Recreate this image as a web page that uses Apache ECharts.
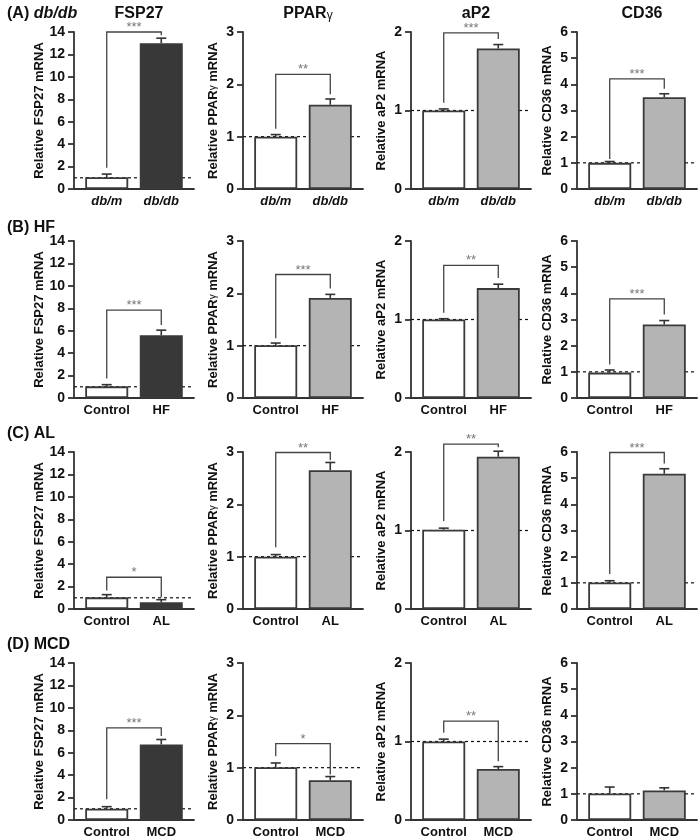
<!DOCTYPE html>
<html>
<head>
<meta charset="utf-8">
<script src="https://cdn.jsdelivr.net/npm/echarts@6/dist/echarts.min.js"></script>
<style>
  html, body { margin: 0; padding: 0; background: #fff; }
  #main { width: 700px; height: 839px; }
</style>
</head>
<body>
<div id="main"></div>
<script>
const rowLabels = ['(A) {i|db/db}', '(B) HF', '(C) AL', '(D) MCD'];
const genes = ['FSP27', 'PPAR{g|γ}', 'aP2', 'CD36'];
const yNames = ['Relative FSP27 mRNA', 'Relative PPAR{g|γ} mRNA', 'Relative aP2 mRNA', 'Relative CD36 mRNA'];
const yMax = [14, 3, 2, 6];
const yStep = [2, 1, 1, 1];
const groups = [
    ['db/m', 'db/db'],
    ['Control', 'HF'],
    ['Control', 'AL'],
    ['Control', 'MCD']
];

// means[row][gene] = [control, treated]
const means = [
    [[1.05, 13.0], [1.0, 1.61], [1.0, 1.79], [1.0, 3.51]],
    [[1.04, 5.6], [1.01, 1.91], [1.0, 1.40], [0.97, 2.81]],
    [[1.04, 0.6], [1.0, 2.65], [1.01, 1.94], [1.01, 5.17]],
    [[1.01, 6.74], [1.01, 0.76], [1.0, 0.65], [1.01, 1.13]]
];
// upper error (SEM)
const sems = [
    [[0.28, 0.45], [0.04, 0.11], [0.02, 0.05], [0.05, 0.13]],
    [[0.15, 0.45], [0.04, 0.07], [0.01, 0.05], [0.10, 0.15]],
    [[0.24, 0.23], [0.04, 0.15], [0.02, 0.07], [0.07, 0.19]],
    [[0.18, 0.44], [0.08, 0.07], [0.03, 0.03], [0.25, 0.10]]
];
// significance brackets: [left leg end, top, right leg end]
const brackets = [
    [[1.9, 14.0, 13.7], [1.15, 2.19, 1.81], [1.1, 1.99, 1.91], [1.15, 4.21, 3.83]],
    [[1.73, 7.83, 6.5], [1.14, 2.36, 2.09], [1.085, 1.69, 1.53], [1.28, 3.79, 3.19]],
    [[1.64, 2.83, 1.04], [1.18, 2.99, 2.84], [1.12, 2.1, 2.06], [1.34, 5.98, 5.56]],
    [[1.84, 8.22, 7.48], [1.22, 1.46, 0.87], [1.11, 1.26, 0.75], null]
];
const stars = [
    ['***', '**', '***', '***'],
    ['***', '***', '**', '***'],
    ['*', '**', '**', '***'],
    ['***', '*', '**', '']
];

const font = '"Liberation Sans", Arial, Helvetica, sans-serif';
const colLeft = [74, 243, 411, 577];
const rowTop = [32, 241, 452, 663];
const rowLabelTop = [1, 215, 421, 632];
const plotH = 157;
const plotW = 120;
const xMin = -0.6, xMax = 1.6;
const treatedColor = ['#383838', '#b4b4b4', '#b4b4b4', '#b4b4b4'];
const axisColor = '#333';

const chart = echarts.init(document.getElementById('main'));

const title = [];
const grid = [];
const xAxis = [];
const yAxis = [];
const series = [];

rowLabels.forEach((lab, r) => {
    title.push({
        text: lab,
        left: 2,
        top: rowLabelTop[r],
        textStyle: {
            fontFamily: font, fontSize: 16, fontWeight: 'bold', color: '#111',
            rich: { i: { fontFamily: font, fontSize: 16, fontWeight: 'bold', fontStyle: 'italic', color: '#111' } }
        }
    });
});
genes.forEach((g, c) => {
    title.push({
        text: g,
        left: colLeft[c] + plotW / 2,
        textAlign: 'center',
        top: 1,
        textStyle: {
            fontFamily: font, fontSize: 16, fontWeight: 'bold', color: '#111',
            rich: { g: { fontFamily: font, fontSize: 12, fontWeight: 'normal', color: '#111', padding: [4, 0, 0, 0] } }
        }
    });
});

for (let r = 0; r < 4; r++) {
    for (let c = 0; c < 4; c++) {
        const k = r * 4 + c;
        grid.push({ left: colLeft[c], top: rowTop[r], width: plotW, height: plotH });
        xAxis.push({
            type: 'value',
            gridIndex: k,
            min: xMin,
            max: xMax,
            splitLine: { show: false },
            axisTick: { show: false },
            axisLine: { show: true, onZero: false, lineStyle: { color: axisColor, width: 1.8 } },
            axisLabel: {
                customValues: [0, 1],
                formatter: v => groups[r][Math.round(v)],
                margin: 6,
                fontFamily: font,
                fontSize: 13,
                fontWeight: 'bold',
                fontStyle: r === 0 ? 'italic' : 'normal',
                color: '#111'
            }
        });
        yAxis.push({
            type: 'value',
            gridIndex: k,
            min: 0,
            max: yMax[c],
            interval: yStep[c],
            name: yNames[c],
            nameLocation: 'middle',
            nameGap: 23,
            nameTextStyle: {
                fontFamily: font, fontSize: 13, fontWeight: 'bold', color: '#111',
                rich: { g: { fontFamily: font, fontSize: 10, fontWeight: 'normal', color: '#111' } }
            },
            splitLine: { show: false },
            axisLine: { show: true, onZero: false, lineStyle: { color: axisColor, width: 1.8 } },
            axisTick: { show: true, length: 6, lineStyle: { color: axisColor, width: 1.8 } },
            axisLabel: {
                margin: 9,
                fontFamily: font,
                fontSize: 14,
                fontWeight: 'bold',
                color: '#111'
            }
        });

        // dashed reference line at 1 (behind bars)
        series.push({
            type: 'line',
            xAxisIndex: k,
            yAxisIndex: k,
            data: [[xMin, 1], [xMax, 1]],
            symbol: 'none',
            z: 1,
            silent: true,
            lineStyle: { color: '#111', width: 1.2, type: [3, 3] }
        });

        const m = means[r][c];
        series.push({
            type: 'bar',
            xAxisIndex: k,
            yAxisIndex: k,
            barWidth: 43,
            z: 2,
            data: [
                { value: [0, m[0]], itemStyle: { color: '#ffffff' } },
                { value: [1, m[1]], itemStyle: { color: treatedColor[c] } }
            ],
            itemStyle: { borderColor: '#3a3a3a', borderWidth: 1.8 }
        });

        const s = sems[r][c];
        series.push({
            type: 'custom',
            xAxisIndex: k,
            yAxisIndex: k,
            z: 3,
            data: [[0, m[0], s[0]], [1, m[1], s[1]]],
            renderItem: (params, api) => {
                const x = api.value(0), y = api.value(1), e = api.value(2);
                const p0 = api.coord([x, y]);
                const p1 = api.coord([x, y + e]);
                const st = { stroke: '#333', lineWidth: 1.6 };
                return {
                    type: 'group',
                    children: [
                        { type: 'line', shape: { x1: p0[0], y1: p0[1], x2: p1[0], y2: p1[1] }, style: st },
                        { type: 'line', shape: { x1: p1[0] - 5, y1: p1[1], x2: p1[0] + 5, y2: p1[1] }, style: st }
                    ]
                };
            }
        });

        const b = brackets[r][c];
        if (b) {
            const txt = stars[r][c];
            series.push({
                type: 'custom',
                xAxisIndex: k,
                yAxisIndex: k,
                z: 4,
                clip: false,
                data: [[0, 1, b[0], b[1], b[2]]],
                renderItem: (params, api) => {
                    const x0 = api.value(0), x1 = api.value(1);
                    const a = api.coord([x0, api.value(2)]);
                    const t0 = api.coord([x0, api.value(3)]);
                    const t1 = api.coord([x1, api.value(3)]);
                    const d = api.coord([x1, api.value(4)]);
                    return {
                        type: 'group',
                        children: [
                            {
                                type: 'polyline',
                                shape: { points: [a, t0, t1, d] },
                                style: { stroke: '#444', lineWidth: 1.3, fill: null }
                            },
                            {
                                type: 'text',
                                style: {
                                    text: txt,
                                    x: (t0[0] + t1[0]) / 2,
                                    y: t0[1] + 2,
                                    align: 'center',
                                    verticalAlign: 'bottom',
                                    font: '13px ' + font,
                                    fill: '#777'
                                }
                            }
                        ]
                    };
                }
            });
        }
    }
}

chart.setOption({
    animation: false,
    title: title,
    grid: grid,
    xAxis: xAxis,
    yAxis: yAxis,
    series: series
});
</script>
</body>
</html>
